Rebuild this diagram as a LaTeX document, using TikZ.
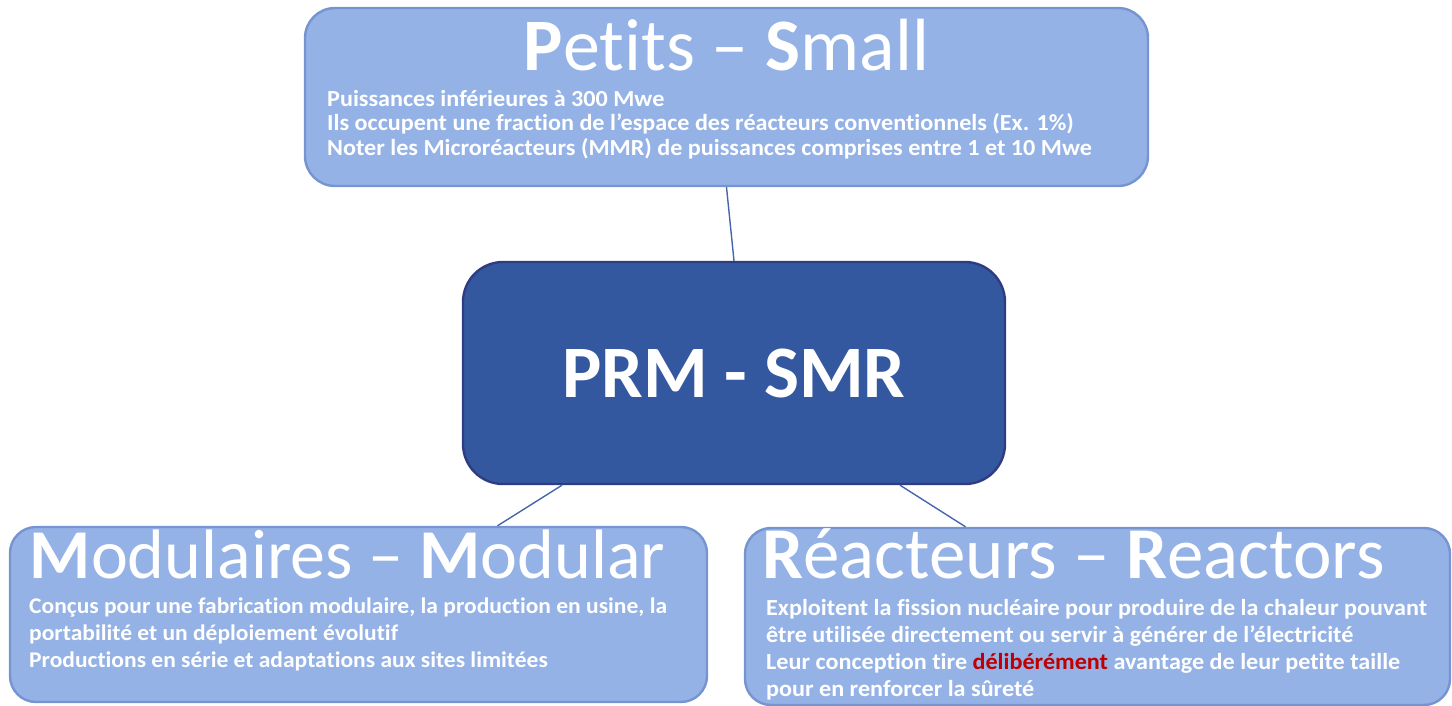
\documentclass[tikz,border=0pt]{standalone}
\usepackage{fontspec}
\setmainfont{Carlito}[Ligatures=NoCommon]
\newfontfamily\bodyfont{Carlito}[Ligatures=NoCommon, FakeStretch=1.05]
\usepackage{xcolor}
\usetikzlibrary{calc,positioning}
\definecolor{lightbox}{RGB}{148,178,230}
\definecolor{lightedge}{RGB}{118,148,208}
\definecolor{darkbox}{RGB}{52,88,160}
\definecolor{darkedge}{RGB}{48,60,130}
\definecolor{linkblue}{RGB}{70,102,172}
\definecolor{warnred}{RGB}{192,0,0}
\tikzset{
  line/.style={draw=linkblue, line width=0.7pt},
  box/.style={draw=lightedge, fill=lightbox, line width=1.2pt, rounded corners=13pt, inner sep=0pt},
  corebox/.style={draw=darkedge, fill=darkbox, line width=1.2pt, rounded corners=20pt,
    text=white, font=\bfseries\fontsize{37}{40}\selectfont},
  ttl/.style={text=white, inner sep=0pt, anchor=base},
  txt/.style={text=white, font=\bodyfont\bfseries\fontsize{11.5}{12.25}\selectfont, align=left,
    inner sep=0pt, anchor=north west}
}

\begin{document}
\begin{tikzpicture}[x=0.5pt, y=-0.5pt]
  \useasboundingbox (0,0) rectangle (1452,706);
  % Centre
  \node[corebox, minimum width=271pt, minimum height=111pt] (prm) at (734,373) {PRM - SMR};

  % Three boxes round it
  \node[box, minimum width=421.5pt, minimum height=89pt, rounded corners=15pt] (small) at (726.5,97) {};
  \node[box, minimum width=348.5pt, minimum height=87.5pt] (modular) at (358.5,614.5) {};
  \node[box, minimum width=352.5pt, minimum height=88.5pt] (reactors) at (1097.5,616.5) {};

  % Titles
  \node[ttl, font=\fontsize{37}{40}\selectfont] (smallttl) at ([yshift=-32pt]small.north)
    {\textbf{P}etits -- \textbf{S}mall};
  \node[ttl, font=\fontsize{35}{38}\selectfont] (modularttl) at ([xshift=-5.5pt, yshift=-26.5pt]modular.north)
    {\textbf{M}odulaires -- \textbf{M}odular};
  \node[ttl, font=\fontsize{36.5}{39}\selectfont] (reactorsttl) at ([xshift=-12pt, yshift=-26pt]reactors.north)
    {\textbf{R}éacteurs -- \textbf{R}eactors};

  % Texts
  \node[txt] (smalltxt) at ([xshift=11.5pt, yshift=-41.5pt]small.north west)
    {Puissances inférieures à 300 Mwe\\
     Ils occupent une fraction de l’espace des réacteurs conventionnels (Ex. 1\%)\\
     Noter les Microréacteurs (MMR) de puissances comprises entre 1 et 10 Mwe};
  \node[txt, font=\bodyfont\bfseries\fontsize{11.2}{13.5}\selectfont] (modulartxt) at ([xshift=10pt, yshift=-36pt]modular.north west)
    {Conçus pour une fabrication modulaire, la production en usine, la\\
     portabilité et un déploiement évolutif\\
     Productions en série et adaptations aux sites limitées};
  \node[txt, font=\bodyfont\bfseries\fontsize{11.5}{13.5}\selectfont] (reactorstxt) at ([xshift=11pt, yshift=-36pt]reactors.north west)
    {Exploitent la fission nucléaire pour produire de la chaleur pouvant\\
     être utilisée directement ou servir à générer de l’électricité\\
     Leur conception tire \textcolor{warnred}{délibérément} avantage de leur petite taille\\
     pour en renforcer la sûreté};

  % Links
  \draw[line] (small.south) -- (prm.north);
  \draw[line] ([xshift=-86pt]prm.south) -- ([xshift=69.5pt]modular.north);
  \draw[line] ([xshift=83pt]prm.south) -- ([xshift=-66pt]reactors.north);
\end{tikzpicture}
\end{document}
